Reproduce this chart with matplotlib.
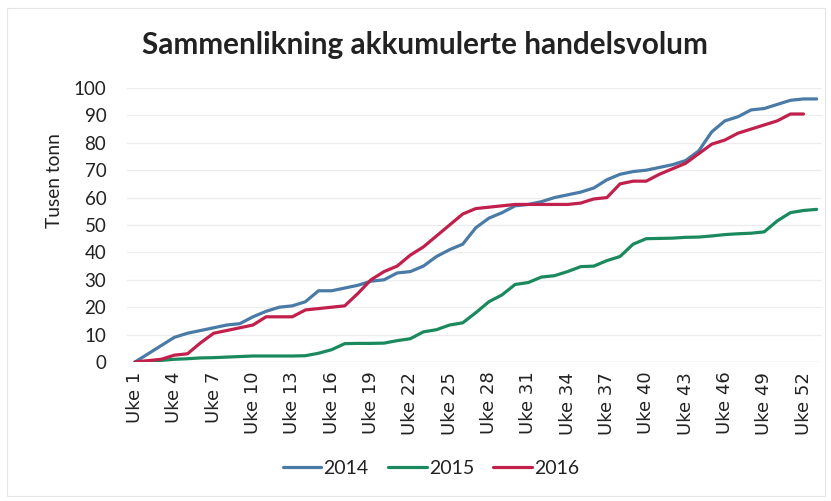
import matplotlib
matplotlib.use("Agg")
import matplotlib.pyplot as plt
from matplotlib.patches import Rectangle

weeks = list(range(1, 54))
tick_weeks = list(range(1, 54, 3))
tick_labels = [f"Uke {w}" for w in tick_weeks]

v2014 = [0, 3, 6, 9, 10.5, 11.5, 12.5, 13.5, 14, 16.5, 18.5, 20, 20.5, 22, 26, 26, 27, 28,
         29.5, 30, 32.5, 33, 35, 38.5, 41, 43, 49, 52.5, 54.5, 57, 57.5, 58.5, 60, 61, 62,
         63.5, 66.5, 68.5, 69.5, 70, 71, 72, 73.5, 77, 84, 88, 89.5, 92, 92.5, 94, 95.5, 96, 96]
v2015 = [0, 0.3, 0.6, 1, 1.2, 1.5, 1.6, 1.8, 2, 2.2, 2.2, 2.2, 2.2, 2.3, 3.2, 4.5, 6.7, 6.8,
         6.8, 6.9, 7.8, 8.5, 11, 11.8, 13.5, 14.3, 18, 22, 24.5, 28.3, 29, 31, 31.5, 33, 34.8,
         35, 37, 38.5, 43, 45, 45.1, 45.2, 45.5, 45.6, 46, 46.5, 46.8, 47, 47.5, 51.5, 54.5, 55.3, 55.7]
v2016 = [0, 0.5, 1, 2.5, 3, 7, 10.5, 11.5, 12.5, 13.5, 16.5, 16.5, 16.5, 19, 19.5, 20, 20.5,
         25, 30, 33, 35, 39, 42, 46, 50, 54, 56, 56.5, 57, 57.5, 57.5, 57.5, 57.5, 57.5, 58,
         59.5, 60, 65, 66, 66, 68.5, 70.5, 72.5, 76, 79.5, 81, 83.5, 85, 86.5, 88, 90.5, 90.5]

series = [("2014", v2014, "#4a7aa6"), ("2015", v2015, "#1a8a5e"), ("2016", v2016, "#c2204c")]

plt.rcParams['font.family'] = ['Lato', 'DejaVu Sans']

fig = plt.figure(figsize=(8.31, 5.01), dpi=100)
fig.patches.append(Rectangle((0.008, 0.01), 0.985, 0.975, transform=fig.transFigure,
                             fill=False, edgecolor="#e4e4e4", linewidth=0.8))
ax = fig.add_axes([0.153, 0.2774, 0.836, 0.547])

for name, vals, col in series:
    ax.plot(weeks[:len(vals)], vals, color=col, linewidth=2.3, label=name,
            solid_joinstyle="round", solid_capstyle="round")

ax.set_xlim(0.4, 53.4)
ax.set_ylim(0, 100)
ax.set_yticks(range(0, 101, 10))
ax.tick_params(axis="y", labelsize=13.5, length=0, pad=15, colors="#222222")
ax.set_xticks(tick_weeks)
ax.set_xticklabels(tick_labels, rotation=90, fontsize=13, family=["DejaVu Sans"],
                   color="#222222")
ax.tick_params(axis="x", length=0, pad=7)
ax.grid(axis="y", color="#ececec", linewidth=0.9)
ax.set_axisbelow(True)
for s in ax.spines.values():
    s.set_visible(False)
ax.axhline(0, color="#d9d9d9", linewidth=0.9, zorder=0)

fig.text(55 / 831, 1 - 181 / 501, "Tusen tonn", rotation=90, ha="center", va="center",
         fontsize=13.8, color="#222222")
fig.text(425 / 831, 1 - 45 / 501, "Sammenlikning akkumulerte handelsvolum", ha="center",
         va="center", fontsize=21.4, fontweight="bold", color="#222222")

leg = fig.legend(loc="center", bbox_to_anchor=(431 / 831, 1 - 468 / 501), ncol=3, frameon=False,
                 fontsize=14, handlelength=2.0, handletextpad=0.1, columnspacing=1.0)
for t in leg.get_texts():
    t.set_color("#222222")

fig.savefig("out.png", dpi=100)
